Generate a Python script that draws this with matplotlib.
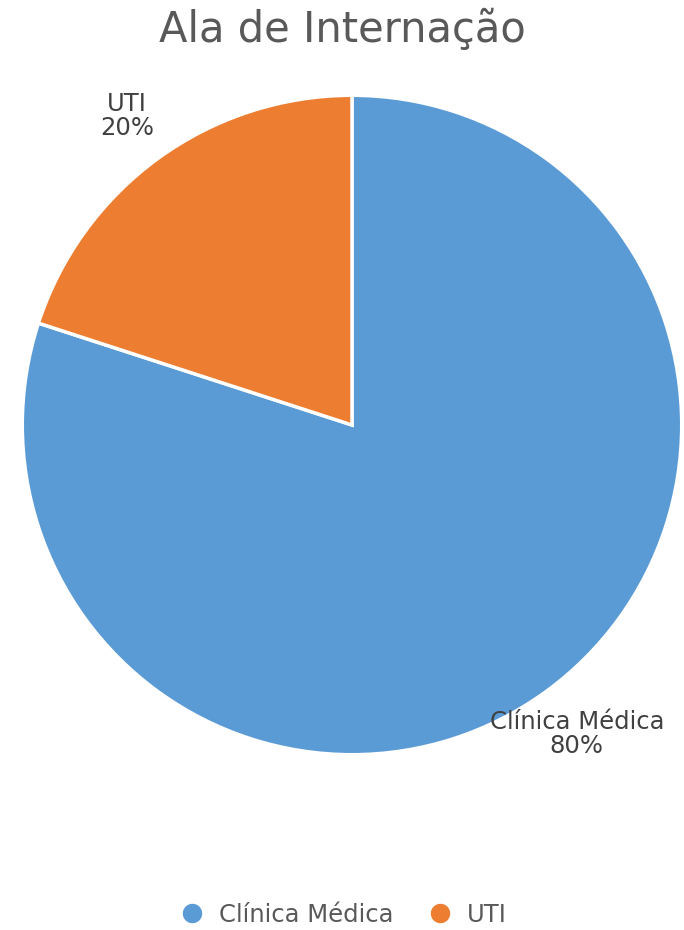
import matplotlib.pyplot as plt
from matplotlib.lines import Line2D

categories = ['Clínica Médica', 'UTI']
values = [80, 20]
colors = ['#5B9BD5', '#ED7D31']

fig = plt.figure(figsize=(6.84, 9.3), dpi=100)
W, H = 684, 930
cx, cy, r = 352, 425, 333
ax = fig.add_axes([(cx - r) / W, (H - cy - r) / H, 2 * r / W, 2 * r / H])

wedges, texts = ax.pie(values, colors=colors, startangle=90, counterclock=False,
                       radius=1, labels=[f'{c}\n{v}%' for c, v in zip(categories, values)],
                       labeldistance=1.16,
                       wedgeprops=dict(edgecolor='white', linewidth=2.5),
                       textprops=dict(fontsize=17.5, color='#404040', ha='center', va='center'))
for t in texts:
    t.set_horizontalalignment('center')
    t.set_linespacing(1.0)
ax.set_xlim(-1.01, 1.01)
ax.set_ylim(-1.01, 1.01)
ax.axis('off')

fig.text(0.5, 1 - 30 / H, 'Ala de Internação', ha='center', va='center',
         fontsize=30, color='#595959')

handles = [Line2D([], [], marker='o', linestyle='', markersize=15, color=c,
                  markeredgecolor='white') for c in colors]
fig.legend(handles, categories, loc='center', bbox_to_anchor=(0.5, 1 - 915 / H),
           ncol=2, frameon=False, fontsize=17.5, labelcolor='#595959',
           handletextpad=0.5, columnspacing=1.3, handlelength=1.2)

fig.savefig('out.png', dpi=100, facecolor='white')
